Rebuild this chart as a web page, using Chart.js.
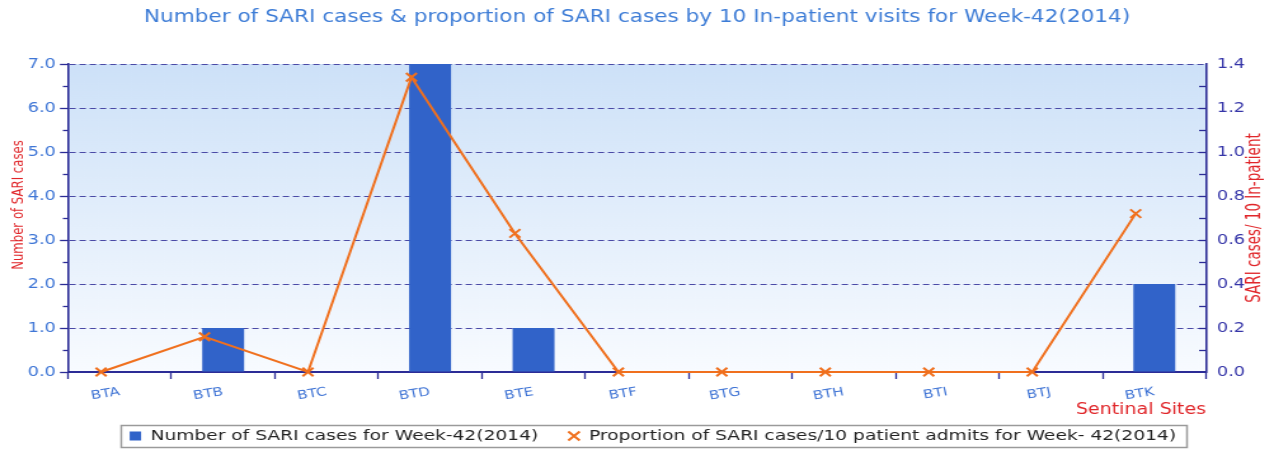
<!DOCTYPE html>
<html><head><meta charset="utf-8">
<script src="https://cdn.jsdelivr.net/npm/chart.js@4.4.1/dist/chart.umd.min.js"></script>
<style>html,body{margin:0;padding:0;background:#fff}</style>
</head><body>
<canvas id="c" width="1003" height="449" style="display:block;width:1274px;height:449px"></canvas>
<script>
// ---- data ----
const sites = ['BTA','BTB','BTC','BTD','BTE','BTF','BTG','BTH','BTI','BTJ','BTK'];
const sariCases = [0, 1, 0, 7, 1, 0, 0, 0, 0, 0, 2];
const sariProportion = [0, 0.16, 0, 1.34, 0.63, 0, 0, 0, 0, 0, 0.72];
const casesAxisMax = 7;
const casesAxisStep = 1;
const proportionAxisMax = 1.4;
const proportionAxisStep = 0.2;

const chartTitle = 'Number of SARI cases & proportion of SARI cases by 10 In-patient visits for Week-42(2014)';
const casesLabel = 'Number of SARI cases for Week-42(2014)';
const proportionLabel = 'Proportion of SARI cases/10 patient admits for Week- 42(2014)';
const leftAxisTitle = 'Number of SARI cases';
const rightAxisTitle = 'SARI cases/ 10 In-patient';
const xAxisTitle = 'Sentinal Sites';

// ---- style ----
// the reference picture is horizontally stretched; the canvas is drawn
// at 1003px wide and displayed at 1274px to reproduce that look
const barColor = '#3163c9';
const lineColor = '#f0701e';
const navy = '#2c2c96';
const gridColor = '#4a4aa6';
const redText = '#e0262a';
const lineShift = -0.18; // line markers sit at the left side of each site's slot
const sans = "'DejaVu Sans', sans-serif";
const condensed = "'DejaVu Sans Condensed', 'Liberation Sans Narrow', sans-serif";

const bgPlugin = {
  id: 'bg',
  beforeDraw(chart) {
    const {ctx, chartArea: a} = chart;
    const g = ctx.createLinearGradient(0, a.top, 0, a.bottom);
    g.addColorStop(0, '#cde1f8');
    g.addColorStop(1, '#f8fbff');
    ctx.save();
    ctx.fillStyle = g;
    ctx.fillRect(a.left, a.top, a.right - a.left, a.bottom - a.top);
    ctx.restore();
  }
};

const layoutPlugin = {
  id: 'legendShift',
  afterLayout(chart) {
    const lg = chart.legend;
    lg.left += 12.5; lg.right += 12.5;
    lg.top -= 14;
  }
};

const extrasPlugin = {
  id: 'extras',
  afterDraw(chart) {
    const {ctx, chartArea: a} = chart;
    const yL = chart.scales.y, yR = chart.scales.y1;
    ctx.save();
    ctx.strokeStyle = navy; ctx.lineWidth = 1.3;
    // left minor ticks (outward)
    for (let v = casesAxisStep / 2; v < casesAxisMax; v += casesAxisStep) {
      const p = Math.round(yL.getPixelForValue(v)) + 0.5;
      ctx.beginPath(); ctx.moveTo(a.left - 4, p); ctx.lineTo(a.left, p); ctx.stroke();
    }
    // right ticks (inward)
    for (let k = 1; k < Math.round(proportionAxisMax / proportionAxisStep * 2); k++) {
      const v = k * proportionAxisStep / 2;
      const p = Math.round(yR.getPixelForValue(v)) + 0.5;
      ctx.beginPath(); ctx.moveTo(a.right - 5.5, p); ctx.lineTo(a.right, p); ctx.stroke();
    }
    ctx.restore();

    // axis titles (both read bottom to top)
    const drawVert = (text, x, y, size) => {
      ctx.save();
      ctx.translate(x, y);
      ctx.rotate(-Math.PI / 2);
      ctx.fillStyle = redText;
      ctx.font = size + 'px ' + condensed;
      ctx.textAlign = 'center'; ctx.textBaseline = 'middle';
      ctx.fillText(text, 0, 0);
      ctx.restore();
    };
    drawVert(leftAxisTitle, yL.left + 9.5, 205, 13);
    drawVert(rightAxisTitle, yR.right - 10, 218, 15);

    // legend frame
    const lg = chart.legend;
    const pad = lg.options.labels.padding;
    const fs = lg.options.labels.font.size;
    const lw = lg.lineWidths[0];
    const x0 = (lg.left + pad + lg.right - lw) / 2;
    const x1 = x0 + lw - pad;
    const yc = lg.top + pad + fs / 2;
    ctx.save();
    ctx.strokeStyle = '#9a9a9a'; ctx.lineWidth = 1.5;
    ctx.strokeRect(Math.round(x0 - 7) + 0.5, Math.round(yc - 11) + 0.5, Math.round(x1 - x0 + 15), 22);
    ctx.restore();
  }
};

new Chart(document.getElementById('c'), {
  data: {
    labels: sites,
    datasets: [
      {
        type: 'bar',
        label: casesLabel,
        data: sariCases,
        backgroundColor: barColor,
        borderWidth: 0,
        grouped: false,
        barPercentage: 0.405,
        categoryPercentage: 1,
        xAxisID: 'x', yAxisID: 'y',
        order: 1
      },
      {
        type: 'line',
        label: proportionLabel,
        data: sariProportion.map((v, i) => ({x: i + lineShift, y: v})),
        borderColor: lineColor,
        backgroundColor: lineColor,
        borderWidth: 2,
        pointStyle: 'crossRot',
        pointRadius: 6,
        pointBorderWidth: 2,
        pointBorderColor: lineColor,
        tension: 0,
        xAxisID: 'x2', yAxisID: 'y1',
        order: 0,
        clip: false
      }
    ]
  },
  options: {
    responsive: false,
    animation: false,
    devicePixelRatio: 1,
    layout: {padding: {left: 5, right: 5, top: 0, bottom: 0}},
    plugins: {
      title: {
        display: true,
        text: chartTitle,
        color: '#3d7cd6',
        font: {family: sans, size: 17, weight: 'normal'},
        padding: {top: 7, bottom: 36.6}
      },
      legend: {
        position: 'bottom',
        maxHeight: 30,
        labels: {
          usePointStyle: true,
          boxWidth: 9, boxHeight: 9,
          padding: 23.6,
          color: '#222222',
          font: {family: sans, size: 14.7},
          sort: (a, b) => a.datasetIndex - b.datasetIndex,
          generateLabels(chart) {
            const items = Chart.defaults.plugins.legend.labels.generateLabels(chart);
            items.forEach(it => {
              if (it.datasetIndex === 0) {
                it.pointStyle = 'rect'; it.lineWidth = 0; it.fillStyle = barColor; it.strokeStyle = barColor;
              } else {
                it.pointStyle = 'crossRot'; it.lineWidth = 2; it.strokeStyle = lineColor;
              }
            });
            return items;
          }
        }
      },
      tooltip: {enabled: false}
    },
    scales: {
      x: {
        type: 'category',
        position: 'bottom',
        offset: true,
        grid: {offset: true, drawOnChartArea: false, drawTicks: true, tickLength: 7, tickColor: navy, tickWidth: 1.3},
        border: {display: true, color: navy, width: 2},
        ticks: {color: '#3d72d4', font: {family: sans, size: 12}, minRotation: 10, maxRotation: 10, padding: 6, autoSkip: false},
        title: {display: true, text: xAxisTitle, align: 'end', color: redText, font: {family: sans, size: 15}, padding: {top: 0, bottom: 0}},
        afterFit(s) { s.height = 47; }
      },
      x2: {
        type: 'linear',
        display: false,
        min: -0.5,
        max: sites.length - 0.5
      },
      y: {
        type: 'linear',
        position: 'left',
        min: 0, max: casesAxisMax,
        grid: {color: gridColor, lineWidth: 1, drawTicks: true, tickLength: 6.3, tickColor: navy, tickWidth: 1.3},
        border: {display: true, color: navy, width: 1.6, dash: [5, 3]},
        ticks: {stepSize: casesAxisStep, color: '#3f76d6', padding: 3.2, font: {family: sans, size: 14}, callback: v => Number(v).toFixed(1)},
        afterFit(s) { s.width = 48.5; }
      },
      y1: {
        type: 'linear',
        position: 'right',
        min: 0, max: proportionAxisMax,
        grid: {drawOnChartArea: false, drawTicks: false},
        border: {display: true, color: navy, width: 1.6},
        ticks: {stepSize: proportionAxisStep, color: '#3535a8', padding: 8.5, font: {family: sans, size: 14}, callback: v => Number(v).toFixed(1)},
        afterFit(s) { s.width = 48.5; }
      }
    }
  },
  plugins: [bgPlugin, layoutPlugin, extrasPlugin]
});
</script>
</body></html>
